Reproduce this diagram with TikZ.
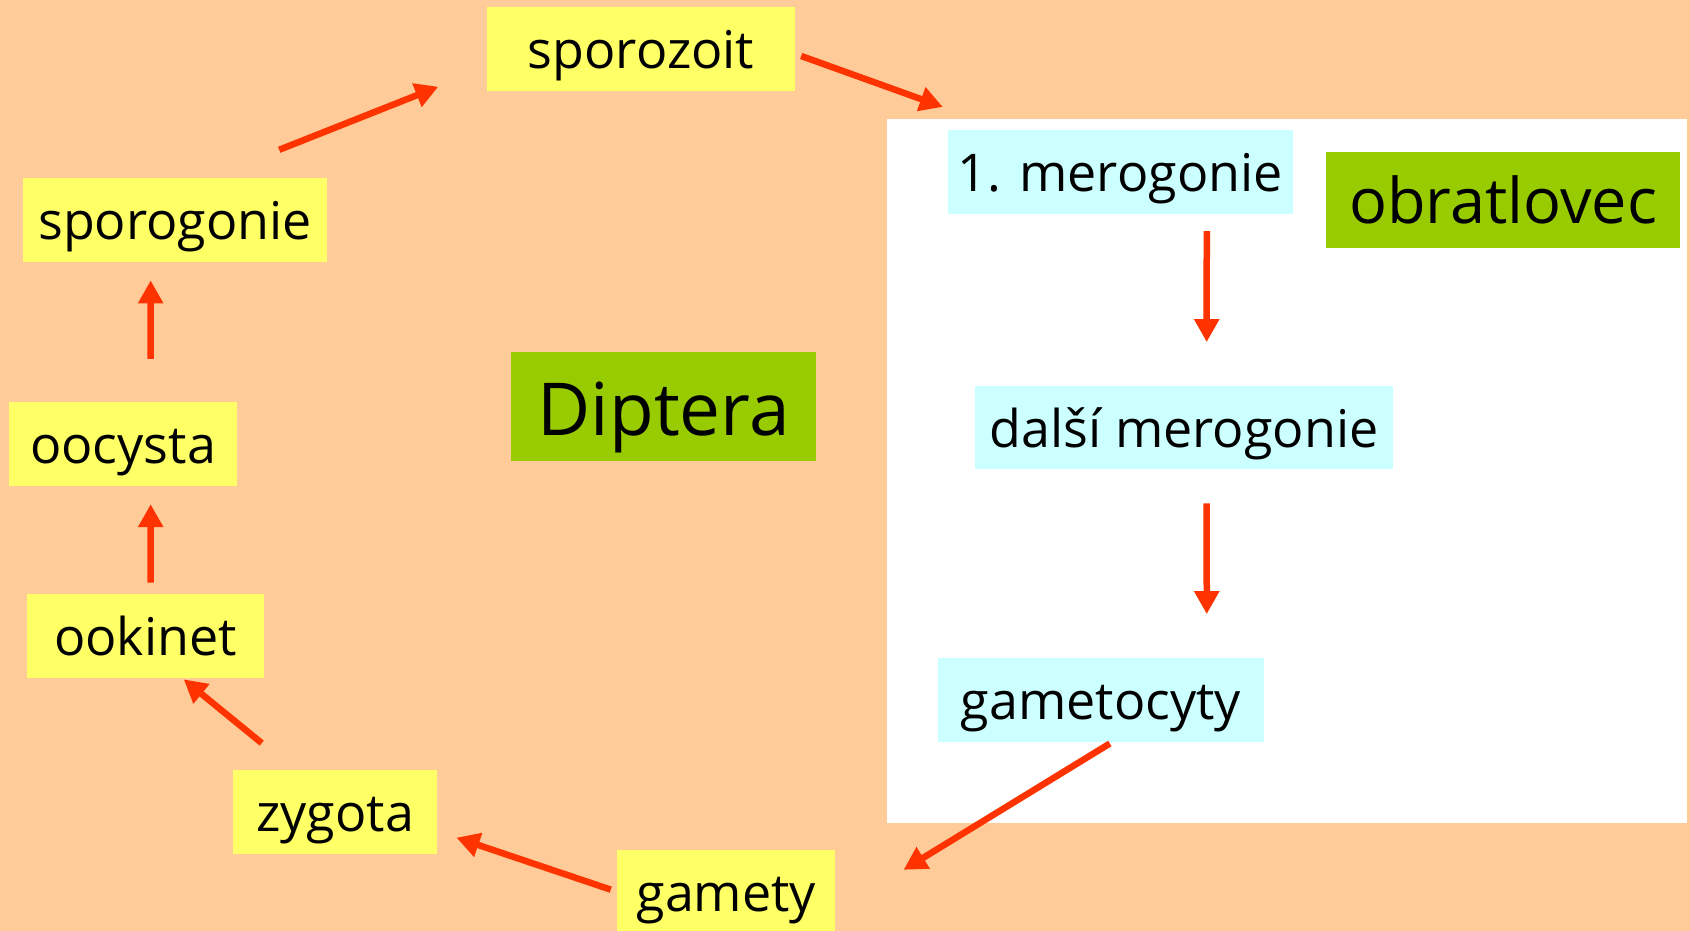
\documentclass[tikz,border=0pt]{standalone}
\usepackage{fontspec}
\setmainfont{Open Sans}
\usetikzlibrary{arrows.meta}
\definecolor{Peach}{HTML}{FFCC99}
\definecolor{Lemon}{HTML}{FFFF66}
\definecolor{Ice}{HTML}{CCFFFF}
\definecolor{Leaf}{HTML}{99CC00}
\definecolor{Flame}{HTML}{FF3300}

\begin{document}
\begin{tikzpicture}[x=1pt,y=-1pt,
    every node/.style={align=center,inner sep=0pt,text=black},
    stage/.style={fill=Lemon,minimum height=83.7pt,text height=50pt,text depth=11pt,font=\fontsize{52}{60}\selectfont},
    hoststage/.style={stage,fill=Ice},
    flow/.style={line width=6.5pt,Flame,-{Triangle[length=23pt,width=24pt]}}]
        \useasboundingbox (0,0) rectangle (1690,931);
        \fill[Peach] (0,0) rectangle (1690,931);
        % vertebrate host
        \node[fill=white,minimum width=800pt,minimum height=704pt] (host) at (1287,470.7) {};
        \node[fill=Leaf,minimum width=354pt,minimum height=95.7pt,text height=60pt,text depth=12pt,font=\fontsize{63}{70}\selectfont] (obratlovec) at (1503,199.85) {obratlovec};
        \node[hoststage,minimum width=344.5pt] (merogonie) at (1120.25,171.85) {1. merogonie};
        \node[hoststage,minimum width=418pt] (dalsi) at (1184,427.5) {další merogonie};
        \node[hoststage,minimum width=326pt] (gametocyty) at (1100.85,699.85) {gametocyty};
        % mosquito
        \node[fill=Leaf,minimum width=305pt,minimum height=108.7pt,text height=70pt,text depth=12pt,font=\fontsize{73}{80}\selectfont] (diptera) at (663.8,406.3) {Diptera};
        \node[stage,minimum width=308pt] (sporozoit) at (641,48.7) {sporozoit};
        \node[stage,minimum width=303.7pt] (sporogonie) at (175.15,219.85) {sporogonie};
        \node[stage,minimum width=227.8pt] (oocysta) at (123.1,443.85) {oocysta};
        \node[stage,minimum width=237pt] (ookinet) at (145.5,636) {ookinet};
        \node[stage,minimum width=204pt] (zygota) at (335.25,811.85) {zygota};
        \node[stage,minimum width=218pt] (gamety) at (726.3,891.85) {gamety};
        % cycle
        \draw[flow] ([xshift=-48pt,yshift=28pt]sporogonie.north east) -- ([xshift=-48.5pt,yshift=4pt]sporozoit.south west);
        \draw[flow] ([xshift=6pt,yshift=-7.3pt]sporozoit.east) -- ([xshift=56pt,yshift=11.6pt]host.north west);
        \draw[flow] ([xshift=86.5pt,yshift=-17.3pt]merogonie.south) -- ([xshift=22.7pt,yshift=43.4pt]dalsi.north);
        \draw[flow] ([xshift=22.7pt,yshift=-33.7pt]dalsi.south) -- ([xshift=105.9pt,yshift=43.7pt]gametocyty.north);
        \draw[flow] ([xshift=9pt,yshift=-1.6pt]gametocyty.south) -- ([xshift=68.1pt,yshift=-20pt]gamety.north east);
        \draw[flow] ([xshift=-6.3pt,yshift=2.2pt]gamety.west) -- ([xshift=19pt,yshift=-25.8pt]zygota.east);
        \draw[flow] ([xshift=28.7pt,yshift=26.7pt]zygota.north west) -- ([xshift=38.2pt,yshift=-1.3pt]ookinet.south);
        \draw[flow] ([xshift=5.2pt,yshift=11.3pt]ookinet.north) -- ([xshift=27.6pt,yshift=-18.3pt]oocysta.south);
        \draw[flow] ([xshift=27.6pt,yshift=43pt]oocysta.north) -- ([xshift=-24.5pt,yshift=-18.5pt]sporogonie.south);
\end{tikzpicture}
\end{document}
